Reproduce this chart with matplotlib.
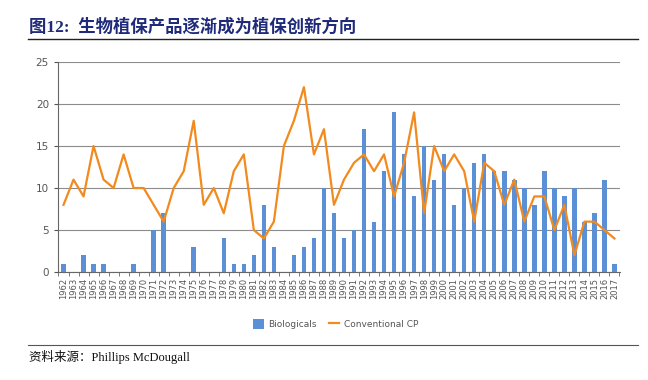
import numpy as np
import matplotlib.pyplot as plt

plt.rcParams['font.family'] = ['DejaVu Sans']

years = [str(y) for y in range(1962, 2018)]
biologicals = [1, 0, 2, 1, 1, 0, 0, 1, 0, 5, 7, 0, 0, 3, 0, 0, 4, 1, 1, 2,
               8, 3, 0, 2, 3, 4, 10, 7, 4, 5, 17, 6, 12, 19, 14, 9, 15, 11, 14, 8,
               10, 13, 14, 12, 12, 11, 10, 8, 12, 10, 9, 10, 6, 7, 11, 1]
conventional = [8, 11, 9, 15, 11, 10, 14, 10, 10, 8, 6, 10, 12, 18, 8, 10, 7, 12, 14, 5,
                4, 6, 15, 18, 22, 14, 17, 8, 11, 13, 14, 12, 14, 9, 13, 19, 7, 15, 12, 14,
                12, 6, 13, 12, 8, 11, 6, 9, 9, 5, 8, 2, 6, 6, 5, 4]

title = '图12:  生物植保产品逐渐成为植保创新方向'
source = '资料来源：Phillips McDougall'

fig = plt.figure(figsize=(6.48, 3.8), dpi=100)
ax = fig.add_axes([0.0895, 0.284, 0.868, 0.553])

x = np.arange(len(years))
bars = ax.bar(x, biologicals, width=0.45, color='#5B8FD6', label='Biologicals', zorder=3)
line, = ax.plot(x, conventional, color='#F28A1E', lw=1.6, label='Conventional CP', zorder=4)

ax.set_xlim(-0.55, 55.6)
ax.set_ylim(0, 25)
ax.set_yticks(range(0, 26, 5))
ax.yaxis.grid(True, color='#8C8C8C', lw=0.8, zorder=0)
ax.set_xticks(x)
ax.set_xticklabels(years, rotation=90, fontsize=6, color='#555555')
ax.set_xticks(np.arange(-0.5, 56, 1), minor=True)
ax.tick_params(axis='x', which='major', length=0, pad=4)
ax.tick_params(axis='x', which='minor', length=3, color='#666666')
ax.tick_params(axis='y', labelsize=7.5, colors='#555555', length=3)
for s in ['top', 'right']:
    ax.spines[s].set_visible(False)
ax.spines['left'].set_color('#666666')
ax.spines['bottom'].set_color('#666666')

fig.legend([bars, line], ['Biologicals', 'Conventional CP'], loc='center',
           bbox_to_anchor=(0.518, 0.148), ncol=2, frameon=False,
           fontsize=6.5, labelcolor='#555555', handlelength=1.2, handleheight=1.3,
           handletextpad=0.5, columnspacing=1.3)

fig.text(0.045, 0.928, title, fontsize=12.5, fontweight='bold', color='#1F2A7A',
         family=['Liberation Serif', 'Noto Sans CJK SC'], va='center')
fig.add_artist(plt.Line2D([0.043, 0.985], [0.897, 0.897], color='#222222', lw=1.0))
fig.add_artist(plt.Line2D([0.043, 0.985], [0.092, 0.092], color='#555555', lw=0.8))
fig.text(0.045, 0.06, source, fontsize=9, color='#111111',
         family=['Liberation Serif', 'Noto Sans CJK SC'], va='center')

fig.savefig('out.png', dpi=100)
